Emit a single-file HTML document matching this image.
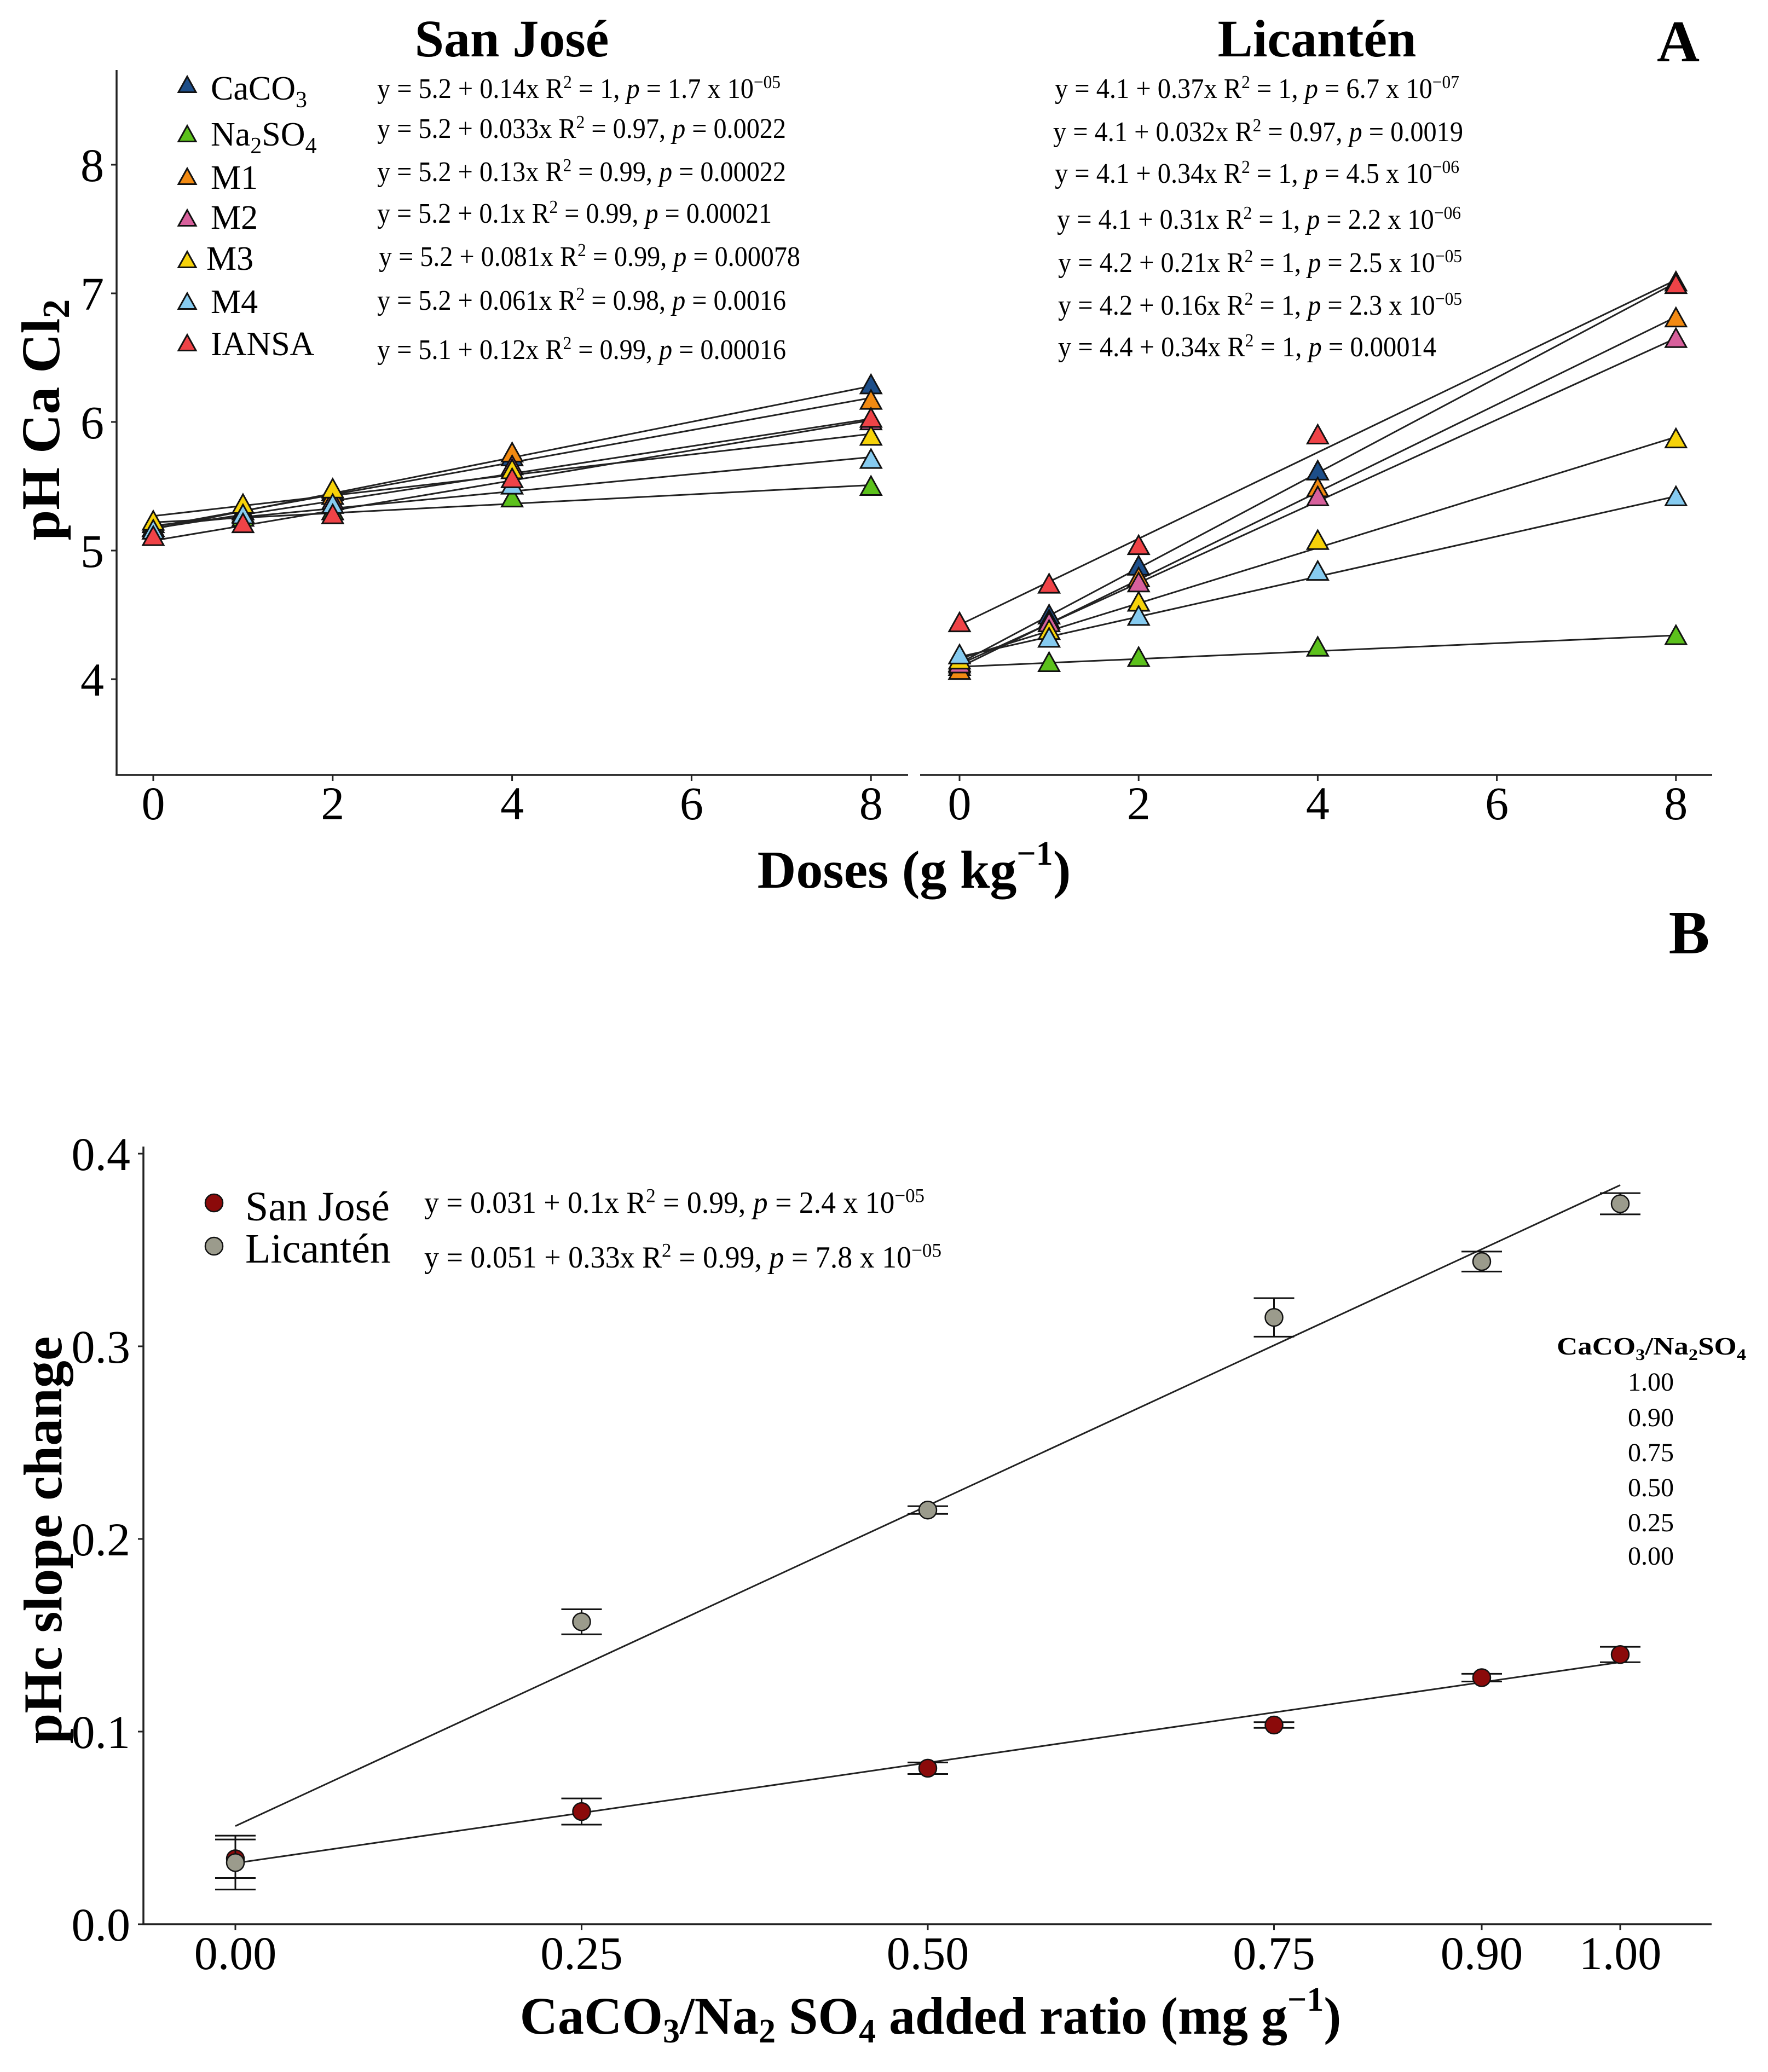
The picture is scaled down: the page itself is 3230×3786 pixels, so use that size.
<!DOCTYPE html>
<html><head><meta charset="utf-8">
<style>
html,body{margin:0;padding:0;background:#fff;}
svg{display:block;}
text{font-family:"Liberation Serif",serif;fill:#000;}
</style></head>
<body>
<svg id="fig" xmlns="http://www.w3.org/2000/svg" width="3230" height="3786" viewBox="0 0 3230 3786">
  <rect x="0" y="0" width="3230" height="3786" fill="#fff"/>
  <!-- Panel A static text -->
  <text x="935" y="103" font-size="96" font-weight="bold" text-anchor="middle">San José</text>
  <text x="2406" y="103" font-size="96" font-weight="bold" text-anchor="middle">Licantén</text>
  <text x="3066" y="112" font-size="108" font-weight="bold" text-anchor="middle">A</text>
  <text x="3086" y="1742" font-size="112" font-weight="bold" text-anchor="middle">B</text>
  <text transform="translate(108,767) rotate(-90)" font-size="100" font-weight="bold" text-anchor="middle">pH Ca Cl<tspan font-size="70" dy="18">2</tspan></text>
  <text x="1670" y="1622" font-size="98" font-weight="bold" text-anchor="middle">Doses (g kg<tspan font-size="62" dy="-42">−1</tspan><tspan dy="42">)</tspan></text>
  <text transform="translate(112,2814) rotate(-90)" font-size="100" font-weight="bold" text-anchor="middle">pHc slope change</text>
  <text x="1700" y="3716" font-size="96" font-weight="bold" text-anchor="middle">CaCO<tspan font-size="62" dy="16">3</tspan><tspan dy="-16">/Na</tspan><tspan font-size="62" dy="16">2</tspan><tspan dy="-16"> SO</tspan><tspan font-size="62" dy="16">4</tspan><tspan dy="-16"> added ratio (mg g</tspan><tspan font-size="62" dy="-42">−1</tspan><tspan dy="42">)</tspan></text>
  <g id="gA"></g>
  <g id="gB"></g>
</svg>
<script>
// ---------- Panel A data ----------
const dosesX = [0, 1, 2, 4, 8];
const seriesNames = ["CaCO3", "Na2SO4", "M1", "M2", "M3", "M4", "IANSA"];
const sjCaCO3  = [5.17, 5.30, 5.45, 5.72, 6.28];
const sjNa2SO4 = [5.20, 5.25, 5.30, 5.40, 5.49];
const sjM1     = [5.17, 5.30, 5.42, 5.75, 6.16];
const sjM2     = [5.15, 5.28, 5.38, 5.65, 6.00];
const sjM3     = [5.22, 5.35, 5.47, 5.62, 5.88];
const sjM4     = [5.15, 5.27, 5.35, 5.50, 5.70];
const sjIANSA  = [5.10, 5.20, 5.27, 5.55, 6.02];
const licCaCO3  = [4.12, 4.49, 4.87, 5.61, 7.08];
const licNa2SO4 = [4.09, 4.12, 4.16, 4.24, 4.33];
const licM1     = [4.06, 4.45, 4.78, 5.48, 6.80];
const licM2     = [4.11, 4.43, 4.74, 5.41, 6.64];
const licM3     = [4.14, 4.37, 4.59, 5.07, 5.86];
const licM4     = [4.18, 4.31, 4.48, 4.83, 5.41];
const licIANSA  = [4.43, 4.73, 5.03, 5.89, 7.06];
const xTicksA = [0, 2, 4, 6, 8];
const yTicksA = [4, 5, 6, 7, 8];
const sjEqMain = ["y = 5.2 + 0.14x  R", "y = 5.2 + 0.033x  R", "y = 5.2 + 0.13x  R", "y = 5.2 + 0.1x  R", "y = 5.2 + 0.081x  R", "y = 5.2 + 0.061x  R", "y = 5.1 + 0.12x  R"];
const sjEqR2 = [" = 1, ", " = 0.97, ", " = 0.99, ", " = 0.99, ", " = 0.99, ", " = 0.98, ", " = 0.99, "];
const sjEqP = [" = 1.7 x 10", " = 0.0022", " = 0.00022", " = 0.00021", " = 0.00078", " = 0.0016", " = 0.00016"];
const sjEqExp = ["−05", "", "", "", "", "", ""];
const licEqMain = ["y = 4.1 + 0.37x  R", "y = 4.1 + 0.032x  R", "y = 4.1 + 0.34x  R", "y = 4.1 + 0.31x  R", "y = 4.2 + 0.21x  R", "y = 4.2 + 0.16x  R", "y = 4.4 + 0.34x  R"];
const licEqR2 = [" = 1, ", " = 0.97, ", " = 1, ", " = 1, ", " = 1, ", " = 1, ", " = 1, "];
const licEqP = [" = 6.7 x 10", " = 0.0019", " = 4.5 x 10", " = 2.2 x 10", " = 2.5 x 10", " = 2.3 x 10", " = 0.00014"];
const licEqExp = ["−07", "", "−06", "−06", "−05", "−05", ""];

// ---------- Panel B data ----------
const ratios = [0, 0.25, 0.5, 0.75, 0.9, 1.0];
const xTickLabelsB = ["0.00", "0.25", "0.50", "0.75", "0.90", "1.00"];
const yTicksB = [0.0, 0.1, 0.2, 0.3, 0.4];
const sjSlope = [0.034, 0.0585, 0.081, 0.1034, 0.128, 0.140];
const sjErr   = [0.010, 0.0068, 0.003, 0.0015, 0.002, 0.004];
const licSlope = [0.032, 0.157, 0.215, 0.315, 0.344, 0.374];
const licErr   = [0.014, 0.0065, 0.002, 0.010, 0.0052, 0.0055];
const ratioLegend = ["1.00", "0.90", "0.75", "0.50", "0.25", "0.00"];

const NS = "http://www.w3.org/2000/svg";
const colors = {CaCO3:"#1d4e89", Na2SO4:"#5cc11c", M1:"#f28a12", M2:"#d7609c", M3:"#f6d20a", M4:"#86cbf0", IANSA:"#ef4347"};
function mk(parent, tag, attrs, txt) {
  const e = document.createElementNS(NS, tag);
  for (const k in attrs) e.setAttribute(k, attrs[k]);
  if (txt !== undefined) e.textContent = txt;
  parent.appendChild(e);
  return e;
}
function fit(xs, ys) {
  const n = xs.length; let sx=0, sy=0, sxx=0, sxy=0;
  for (let i=0;i<n;i++){sx+=xs[i];sy+=ys[i];sxx+=xs[i]*xs[i];sxy+=xs[i]*ys[i];}
  const b = (n*sxy - sx*sy)/(n*sxx - sx*sx); const a = (sy - b*sx)/n; return [a,b];
}

// ---------- Panel A ----------
const gA = document.getElementById("gA");
const yA = v => 1241 - (v - 4) * 235;
const xSJ = v => 280 + v * 163.9;
const xLic = v => 1753 + v * 163.6;
const sjData = [sjCaCO3, sjNa2SO4, sjM1, sjM2, sjM3, sjM4, sjIANSA];
const licData = [licCaCO3, licNa2SO4, licM1, licM2, licM3, licM4, licIANSA];

// axes
let el = mk(gA, "line", {x1:213, y1:128, x2:213, y2:1416, stroke:"#222", "stroke-width":3.5});


el = mk(gA, "line", {x1:211, y1:1416, x2:1659, y2:1416, stroke:"#222", "stroke-width":3.5});


el = mk(gA, "line", {x1:1681, y1:1416, x2:3128, y2:1416, stroke:"#222", "stroke-width":3.5});


yTicksA.forEach(t => {
  let tk = mk(gA, "line", {x1:203, y1:yA(t), x2:213, y2:yA(t), stroke:"#222", "stroke-width":3});
  
  
  let lb = mk(gA, "text", {x:190, y:yA(t)+30, "font-size":86, "text-anchor":"end"}, String(t));
  
  
});
[xSJ, xLic].forEach(sc => {
  xTicksA.forEach(t => {
    let tk = mk(gA, "line", {x1:sc(t), y1:1416, x2:sc(t), y2:1427, stroke:"#222", "stroke-width":3});
    
    
    let lb = mk(gA, "text", {x:sc(t), y:1497, "font-size":86, "text-anchor":"middle"}, String(t));
    
    
  });
});
function tri(parent, cx, cy, s, fill) {
  const h = s * 0.9;
  return mk(parent, "polygon", {points:`${cx},${cy-h*0.6} ${cx-s/2},${cy+h*0.4} ${cx+s/2},${cy+h*0.4}`, fill:fill, stroke:"#111", "stroke-width":3});
}
// regression lines
[[sjData, xSJ], [licData, xLic]].forEach(([data, sc]) => {
  data.forEach((ys, i) => {
    const [a, b] = fit(dosesX, ys);
    let ln = mk(gA, "line", {x1:sc(0), y1:yA(a), x2:sc(8), y2:yA(a + b*8), stroke:"#222", "stroke-width":3});
    
    
  });
});
// markers
[[sjData, xSJ], [licData, xLic]].forEach(([data, sc]) => {
  data.forEach((ys, i) => {
    ys.forEach((v, j) => {
      let m = tri(gA, sc(dosesX[j]), yA(v), 38, colors[seriesNames[i]]);
      
      
    });
  });
});
// legend A
const legY = [157, 247, 325, 401, 477, 553, 629];
const legBase = [182, 266, 345, 418, 493, 572, 649];
const legLabels = [["CaCO","3",""], ["Na","2","SO","4"], ["M1"], ["M2"], ["M3"], ["M4"], ["IANSA"]];
seriesNames.forEach((nm, i) => {
  let m = tri(gA, 342, legY[i], 32, colors[nm]);
  
  
  const t = mk(gA, "text", {x: nm === "M3" ? 377 : 385, y: legBase[i], "font-size":62});
  
  
  const parts = legLabels[i];
  parts.forEach((p, k) => {
    if (p === "") return;
    const sub = k % 2 === 1;
    mk(t, "tspan", sub ? {"font-size":42, dy:14} : (k > 0 ? {dy:-14} : {}), p);
  });
});
function eq(parent, x, y, fs, len, main, r2, pv, ex) {
  const t = mk(parent, "text", {x:x, y:y, "font-size":fs, textLength:len, lengthAdjust:"spacingAndGlyphs"});
  mk(t, "tspan", {}, main);
  mk(t, "tspan", {"font-size":fs*0.65, dy:-fs*0.35}, "2");
  mk(t, "tspan", {dy:fs*0.35}, r2);
  mk(t, "tspan", {"font-style":"italic"}, "p");
  mk(t, "tspan", {}, pv);
  if (ex) mk(t, "tspan", {"font-size":fs*0.65, dy:-fs*0.35}, ex);
  return t;
}
const sjEqY = [179, 252, 331, 407, 486, 566, 656];
const sjEqX = [689, 689, 689, 689, 692, 689, 689];
const sjEqW = [737, 747, 747, 721, 770, 747, 747];
sjEqMain.forEach((m, i) => {
  let t = eq(gA, sjEqX[i], sjEqY[i], 52, sjEqW[i], m, sjEqR2[i], sjEqP[i], sjEqExp[i]);
  
  
});
const licEqY = [179, 258, 334, 418, 497, 575, 651];
const licEqX = [1927, 1924, 1927, 1931, 1933, 1933, 1933];
const licEqW = [739, 749, 739, 738, 738, 738, 691];
licEqMain.forEach((m, i) => {
  let t = eq(gA, licEqX[i], licEqY[i], 52, licEqW[i], m, licEqR2[i], licEqP[i], licEqExp[i]);
  
  
});

// ---------- Panel B ----------
const gB = document.getElementById("gB");
const xB = v => 430 + v * 2530;
const yB = v => 3516 - v * 3520;
el = mk(gB, "line", {x1:262, y1:2095, x2:262, y2:3516, stroke:"#222", "stroke-width":3.5});


el = mk(gB, "line", {x1:260, y1:3516, x2:3127, y2:3516, stroke:"#222", "stroke-width":3.5});


yTicksB.forEach(t => {
  let tk = mk(gB, "line", {x1:252, y1:yB(t), x2:262, y2:yB(t), stroke:"#222", "stroke-width":3});
  
  
  let lb = mk(gB, "text", {x:238, y:yB(t)+30, "font-size":86, "text-anchor":"end"}, t.toFixed(1));
  
  
});
ratios.forEach((r, i) => {
  let tk = mk(gB, "line", {x1:xB(r), y1:3516, x2:xB(r), y2:3527, stroke:"#222", "stroke-width":3});
  
  
  let lb = mk(gB, "text", {x:xB(r), y:3598, "font-size":86, "text-anchor":"middle"}, xTickLabelsB[i]);
  
  
});
[[sjSlope, "san-jose"], [licSlope, "licanten"]].forEach(([ys, nm]) => {
  const [a, b] = fit(ratios, ys);
  let ln = mk(gB, "line", {x1:xB(0), y1:yB(a), x2:xB(1), y2:yB(a+b), stroke:"#222", "stroke-width":3});
  
  
});
[[sjSlope, sjErr, "#8b0a0a", "san-jose"], [licSlope, licErr, "#9b9b8c", "licanten"]].forEach(([ys, es, col, nm]) => {
  ys.forEach((v, i) => {
    const cx = xB(ratios[i]);
    const g = mk(gB, "g", {});
    
    
    mk(g, "line", {x1:cx, y1:yB(v+es[i]), x2:cx, y2:yB(v-es[i]), stroke:"#111", "stroke-width":3});
    mk(g, "line", {x1:cx-37, y1:yB(v+es[i]), x2:cx+37, y2:yB(v+es[i]), stroke:"#111", "stroke-width":3});
    mk(g, "line", {x1:cx-37, y1:yB(v-es[i]), x2:cx+37, y2:yB(v-es[i]), stroke:"#111", "stroke-width":3});
    let c = mk(gB, "circle", {cx:cx, cy:yB(v), r:16, fill:col, stroke:"#111", "stroke-width":2.5});
    
    
  });
});
// legend B
el = mk(gB, "circle", {cx:391, cy:2198, r:16, fill:"#8b0a0a", stroke:"#111", "stroke-width":2.5});


el = mk(gB, "circle", {cx:391, cy:2277, r:16, fill:"#9b9b8c", stroke:"#111", "stroke-width":2.5});


el = mk(gB, "text", {x:448, y:2230, "font-size":76}, "San José");


el = mk(gB, "text", {x:448, y:2307, "font-size":76}, "Licantén");


el = eq(gB, 775, 2216, 56, 914, "y = 0.031 + 0.1x  R", " = 0.99, ", " = 2.4 x 10", "−05");


el = eq(gB, 775, 2316, 56, 945, "y = 0.051 + 0.33x  R", " = 0.99, ", " = 7.8 x 10", "−05");


// ratio legend
el = mk(gB, "text", {x:2844, y:2475, "font-size":46, "font-weight":"bold", textLength:346, lengthAdjust:"spacingAndGlyphs"});


mk(el, "tspan", {}, "CaCO");
mk(el, "tspan", {"font-size":30, dy:10}, "3");
mk(el, "tspan", {dy:-10}, "/Na");
mk(el, "tspan", {"font-size":30, dy:10}, "2");
mk(el, "tspan", {dy:-10}, "SO");
mk(el, "tspan", {"font-size":30, dy:10}, "4");
const ratioBase = [2541, 2606, 2670, 2734, 2798, 2859];
ratioLegend.forEach((r, i) => {
  let t = mk(gB, "text", {x:2974, y:ratioBase[i], "font-size":48}, r);
  
  
});
</script>
</body></html>
